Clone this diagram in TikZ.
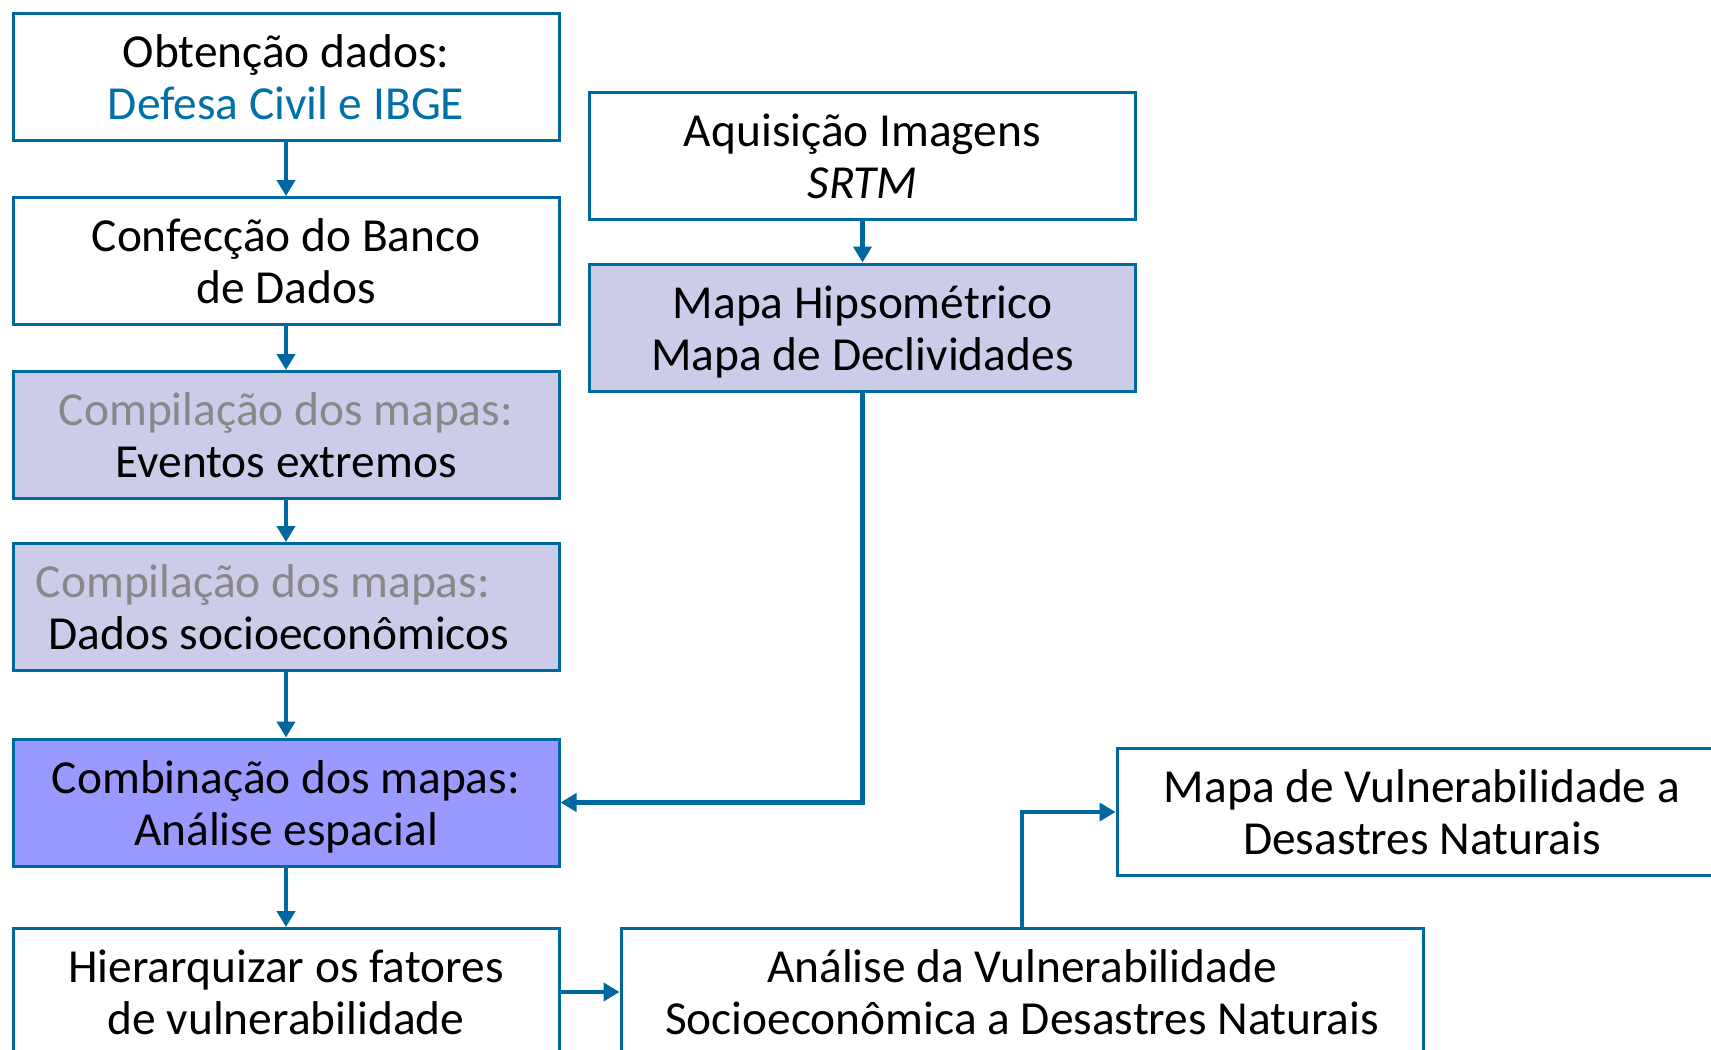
\documentclass[tikz,border=0pt]{standalone}
\usepackage{fontspec}
\setmainfont{Carlito}
\usetikzlibrary{arrows.meta}
\definecolor{linhaazul}{RGB}{0,104,160}
\definecolor{textoazul}{RGB}{0,112,168}
\definecolor{lilas}{RGB}{204,204,232}
\definecolor{violeta}{RGB}{153,153,255}
\definecolor{cinza}{RGB}{136,136,136}
\begin{document}
\begin{tikzpicture}[x=0.5pt,y=-0.5pt,
    caixa/.style={draw=linhaazul, line width=1.5pt, fill=white, align=center,
      minimum width=273pt, minimum height=63.5pt, inner sep=0pt,
      font=\fontsize{23.7}{26}\selectfont,
      text height=53pt, text depth=10.5pt},
    seta/.style={draw=linhaazul, line width=2.3pt, -{Triangle[length=8pt,width=9pt]}}]
  \useasboundingbox (0,0) rectangle (1711,1049);
  \clip (0,0) rectangle (1711,1049);
  % coluna esquerda
  \node[caixa] (obt) at (286,76.5) {Obtenção dados:\\ \textcolor{textoazul}{Defesa Civil e IBGE}};
  \node[caixa] (banco) at (286,261) {Confecção do Banco\\ de Dados};
  \node[caixa, fill=lilas] (evt) at (286,435) {\textcolor{cinza}{Compilação dos mapas:}\\ Eventos extremos};
  \node[caixa, fill=lilas] (socio) at (286,607) {\textcolor{cinza}{Compilação dos mapas:}\hspace*{23pt}\\ Dados socioeconômicos\hspace*{7pt}};
  \node[caixa, fill=violeta] (comb) at (286,802.5) {Combinação dos mapas:\\ Análise espacial};
  \node[caixa] (hier) at (286,992) {Hierarquizar os fatores\\ de vulnerabilidade};
  % coluna direita
  \node[caixa] (aqu) at (862.5,156) {Aquisição Imagens\\ \textit{SRTM}};
  \node[caixa, fill=lilas] (hips) at (862.5,327.5) {Mapa Hipsométrico\\ Mapa de Declividades};
  \node[caixa, minimum width=401pt] (anal) at (1022,992) {Análise da Vulnerabilidade\\ Socioeconômica a Desastres Naturais};
  \node[caixa, minimum width=305pt] (vuln) at (1422,812) {Mapa de Vulnerabilidade a\\ Desastres Naturais};
  % setas
  \draw[seta] (obt) -- (banco);
  \draw[seta] (banco) -- (evt);
  \draw[seta] (evt) -- (socio);
  \draw[seta] (socio) -- (comb);
  \draw[seta] (comb) -- (hier);
  \draw[seta] (aqu) -- (hips);
  \draw[seta] (hips.south) |- (comb.east);
  \draw[seta] (hier) -- (anal);
  \draw[seta] (anal.north) |- (vuln.west);
\end{tikzpicture}
\end{document}
